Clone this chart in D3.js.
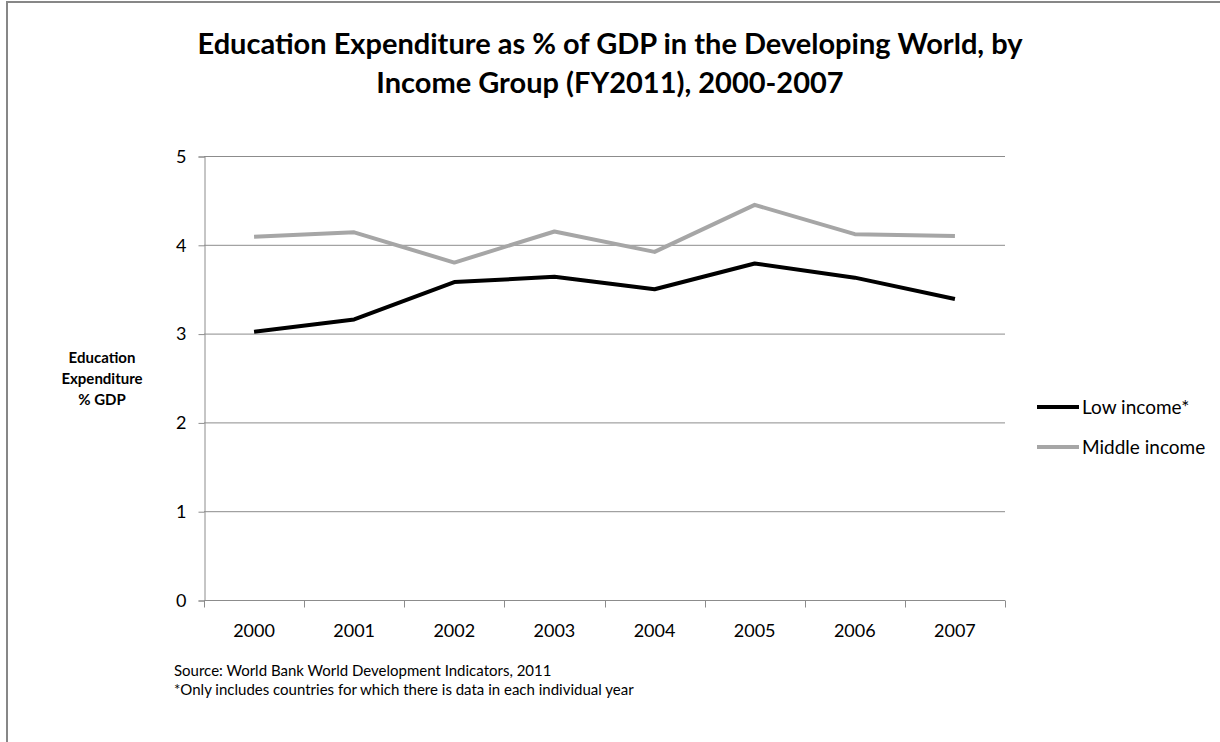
<!DOCTYPE html>
<html><head><meta charset="utf-8">
<script src="https://cdn.jsdelivr.net/npm/d3@7"></script>
<style>
html,body{margin:0;padding:0;background:#fff;}
svg text{font-family:Lato,"Open Sans",sans-serif;fill:#000;}
</style></head>
<body>
<svg id="chart" width="1220" height="742"></svg>
<script>
const years = ["2000","2001","2002","2003","2004","2005","2006","2007"];
const lowIncome = [3.02,3.16,3.58,3.64,3.50,3.79,3.63,3.39];
const middleIncome = [4.09,4.14,3.80,4.15,3.92,4.45,4.12,4.10];
const yTicks = [0,1,2,3,4,5];
const seriesNames = ["Low income*","Middle income"];
const titleLines = ["Education Expenditure as % of GDP in the Developing World, by","Income Group (FY2011), 2000-2007"];
const yTitleLines = ["Education","Expenditure","% GDP"];
const notes = ["Source: World Bank World Development Indicators, 2011","*Only includes countries for which there is data in each individual year"];

const series = [
  {name: seriesNames[0], values: lowIncome, color: "#000000"},
  {name: seriesNames[1], values: middleIncome, color: "#a6a6a6"}
];

const svg = d3.select("#chart");
// outer frame
svg.append("rect").attr("x",7).attr("y",2).attr("width",1230).attr("height",760)
  .attr("fill","none").attr("stroke","#878787").attr("stroke-width",2);

const plot = {left:204, right:1005, top:156, bottom:600};
const x = d3.scaleBand().domain(years).range([plot.left, plot.right]);
const y = d3.scaleLinear().domain([0,5]).range([plot.bottom, plot.top]);

// gridlines
svg.append("g").selectAll("line").data(yTicks.filter(d=>d>0)).join("line")
  .attr("x1",plot.left).attr("x2",plot.right)
  .attr("y1",d=>y(d)+0.5).attr("y2",d=>y(d)+0.5)
  .attr("stroke","#8c8c8c").attr("stroke-width",1);

// y axis
const yAxis = d3.axisLeft(y).tickValues(yTicks).tickSize(6).tickPadding(12).tickFormat(d3.format("d"));
const gy = svg.append("g").attr("transform",`translate(${plot.left+0.5},0.5)`).call(yAxis);
gy.select(".domain").attr("stroke","#8c8c8c");
gy.selectAll(".tick line").attr("stroke","#8c8c8c");
gy.selectAll(".tick text").attr("font-size",18).attr("font-family","Lato,sans-serif").attr("fill","#000");

// x axis with ticks at band boundaries
const gx = svg.append("g").attr("transform",`translate(0,${plot.bottom+0.5})`);
gx.append("line").attr("x1",plot.left).attr("x2",plot.right).attr("stroke","#8c8c8c");
const bounds = years.map(d=>x(d)).concat([x.range()[1]]);
gx.selectAll("line.tk").data(bounds).join("line").attr("class","tk")
  .attr("x1",d=>Math.round(d)+0.5).attr("x2",d=>Math.round(d)+0.5).attr("y1",0).attr("y2",7)
  .attr("stroke","#8c8c8c");
gx.selectAll("text").data(years).join("text")
  .attr("x",d=>x(d)+x.bandwidth()/2).attr("y",36)
  .attr("text-anchor","middle").attr("font-size",18).text(d=>d);

// lines
const line = d3.line().x((d,i)=>x(years[i])+x.bandwidth()/2).y(d=>y(d));
svg.append("g").selectAll("path").data(series.slice().reverse()).join("path")
  .attr("d",d=>line(d.values)).attr("fill","none")
  .attr("stroke",d=>d.color).attr("stroke-width",4).attr("stroke-linejoin","round");

// title
svg.append("g").selectAll("text").data(titleLines).join("text")
  .attr("x",610).attr("y",(d,i)=>54+i*39).attr("text-anchor","middle")
  .attr("font-size",29).attr("font-weight","bold").text(d=>d);

// y title
svg.append("g").selectAll("text").data(yTitleLines).join("text")
  .attr("x",102).attr("y",(d,i)=>363+i*21).attr("text-anchor","middle")
  .attr("font-size",15).attr("font-weight","bold").text(d=>d);

// legend
const lg = svg.append("g").selectAll("g").data(series).join("g")
  .attr("transform",(d,i)=>`translate(1037,${407+i*40})`);
lg.append("line").attr("x1",0).attr("x2",42).attr("y1",0).attr("y2",0)
  .attr("stroke",d=>d.color).attr("stroke-width",4);
lg.append("text").attr("x",45).attr("y",6.5).attr("font-size",19).text(d=>d.name);

// notes
svg.append("g").selectAll("text").data(notes).join("text")
  .attr("x",174).attr("y",(d,i)=>676+i*19).attr("font-size",15).text(d=>d);
</script>
</body></html>
